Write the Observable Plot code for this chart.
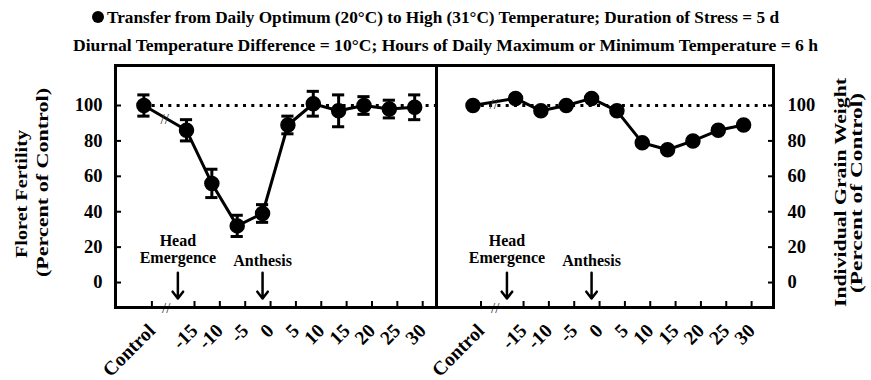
<!DOCTYPE html>
<html><head><meta charset="utf-8">
<script src="https://cdn.jsdelivr.net/npm/d3@7"></script>
<script src="https://cdn.jsdelivr.net/npm/@observablehq/plot@0.6"></script>
<style>
body{margin:0;background:#fff;}
#wrap{position:relative;width:871px;height:380px;overflow:hidden;font-family:"Liberation Serif","Times New Roman",serif;font-weight:bold;color:#000;}
#wrap svg{position:absolute;top:0;}
</style></head><body><div id="wrap"></div>
<script>
// ---- data ----
const days = ["Control", -15, -10, -5, 0, 5, 10, 15, 20, 25, 30];
const tickLabels = ["Control", "-15", "-10", "-5", "0", "5", "10", "15", "20", "25", "30"];
const fertility = [100, 86, 56, 32, 39, 89, 101, 97, 100, 98, 99];
const fertilityErr = [6, 6, 8, 6, 5, 5, 7, 9, 5, 5, 7];
const grainWeight = [100, 104, 97, 100, 104, 97, 79, 75, 80, 86, 89];
const yTicks = [0, 20, 40, 60, 80, 100];
const eventNames = ["Head\nEmergence", "Anthesis"];
const eventDays = [-16.7, 0];
const eventLabelY = [18.9, 12.4];
const controlPos = -23.4;   // where "Control" sits on the day axis
const breakDay = -19.3;     // axis-break marks
const reference = 100;
const titleLines = [
  "Transfer from Daily Optimum (20\u00B0C) to High (31\u00B0C) Temperature; Duration of Stress = 5 d",
  "Diurnal Temperature Difference = 10\u00B0C; Hours of Daily Maximum or Minimum Temperature = 6 h"
];
const leftTitle = ["Floret Fertility", "(Percent of Control)"];
const rightTitle = ["Individual Grain Weight", "(Percent of Control)"];

const xOf = d => d === "Control" ? controlPos : d;
const xTicks = days.map(xOf);

function panel({values, errs, xDomain, width, marginLeft, marginRight, yAnchor, left}) {
  const data = days.map((d, i) => ({x: xOf(d), y: values[i], e: errs ? errs[i] : 0}));
  const yBreak = values[0] + (values[1] - values[0]) * (breakDay - controlPos) / (-15 - controlPos);
  const events = eventNames.map((n, i) => ({name: n, x: eventDays[i], ly: eventLabelY[i]}));
  const marks = [
    Plot.ruleY([reference], {x1: controlPos, x2: xDomain[1], strokeWidth: 3, strokeDasharray: "3,5.3"}),
  ];
  if (errs) {
    marks.push(
      Plot.ruleX(data, {x: "x", y1: d => d.y - d.e, y2: d => d.y + d.e, strokeWidth: 3}),
      Plot.ruleY(data, {y: d => d.y - d.e, x1: d => d.x - 1.2, x2: d => d.x + 1.2, strokeWidth: 3}),
      Plot.ruleY(data, {y: d => d.y + d.e, x1: d => d.x - 1.2, x2: d => d.x + 1.2, strokeWidth: 3})
    );
  }
  marks.push(
    Plot.line(data, {x: "x", y: "y", strokeWidth: 3, stroke: "black"}),
    Plot.dot(data, {x: "x", y: "y", r: 7, fill: "black", stroke: "black"}),
    Plot.text([{x: breakDay, y: yBreak}], {x: "x", y: "y", text: () => "//", fontSize: 15, fontWeight: "normal", fill: "#333", dy: 2}),
    Plot.text([{x: breakDay + 0.3, y: -14.1}], {x: "x", y: "y", text: () => "//", fontSize: 15, fontWeight: "normal", dy: 1, fill: "#333"}),
    Plot.arrow(events, {x1: "x", x2: "x", y1: 5.6, y2: -9, strokeWidth: 2.5, headLength: 11, headAngle: 75, stroke: "black"}),
    Plot.text(events, {x: "x", y: "ly", text: "name", fontSize: 16, lineHeight: 1.06}),
    Plot.frame({strokeWidth: 3}),
    Plot.axisY(yTicks, {anchor: yAnchor, tickSize: -6, tickPadding: yAnchor === "left" ? 19 : 20, strokeWidth: 2, label: null, fontSize: 18.5, tickFormat: d => String(d)}),
    Plot.axisX(xTicks, {anchor: "bottom", tickSize: -6, tickPadding: 26, dx: 8, strokeWidth: 2, tickRotate: -45, label: null, fontSize: 19.5, tickFormat: d => tickLabels[xTicks.indexOf(d)]})
  );
  const svg = Plot.plot({
    width, height: 380, marginTop: 65, marginBottom: 73, marginLeft, marginRight,
    style: {background: "transparent", fontFamily: "Liberation Serif", fontWeight: "bold", fontSize: "18px", color: "black", overflow: "visible"},
    x: {domain: xDomain},
    y: {domain: [-14.1, 122.6]},
    marks
  });
  svg.style.left = left + "px";
  return svg;
}

const wrap = document.getElementById("wrap");
wrap.appendChild(panel({values: fertility, errs: fertilityErr, xDomain: [-29, 34.3], width: 436, marginLeft: 115, marginRight: 0, yAnchor: "left", left: 0}));
wrap.appendChild(panel({values: grainWeight, errs: null, xDomain: [-30.6, 35.9], width: 435, marginLeft: 0, marginRight: 98, yAnchor: "right", left: 436}));

// titles overlay
const svg = d3.select(wrap).append("svg").attr("width", 871).attr("height", 380)
  .style("left", "0px").attr("font-family", "Liberation Serif").attr("font-weight", "bold").attr("fill", "black");
svg.append("circle").attr("cx", 98).attr("cy", 17).attr("r", 6).attr("fill", "black");
svg.append("text").attr("x", 107).attr("y", 17).attr("dy", "0.35em").attr("font-size", 17)
  .attr("textLength", 672).attr("lengthAdjust", "spacingAndGlyphs").text(titleLines[0]);
svg.append("text").attr("x", 73).attr("y", 45).attr("dy", "0.35em").attr("font-size", 17)
  .attr("textLength", 745).attr("lengthAdjust", "spacingAndGlyphs").text(titleLines[1]);
const vt = [
  {s: leftTitle[0], x: 20.5, y: 194, len: 128, fs: 17.5},
  {s: leftTitle[1], x: 41.5, y: 182.5, len: 189, fs: 17.5},
  {s: rightTitle[0], x: 840, y: 192.5, len: 229, fs: 16},
  {s: rightTitle[1], x: 856, y: 193, len: 200, fs: 16}
];
for (const t of vt) {
  svg.append("text").attr("transform", `translate(${t.x},${t.y}) rotate(-90)`)
    .attr("x", -t.len / 2).attr("dy", "0.35em").attr("font-size", t.fs)
    .attr("textLength", t.len).attr("lengthAdjust", "spacingAndGlyphs").text(t.s);
}
</script></body></html>
